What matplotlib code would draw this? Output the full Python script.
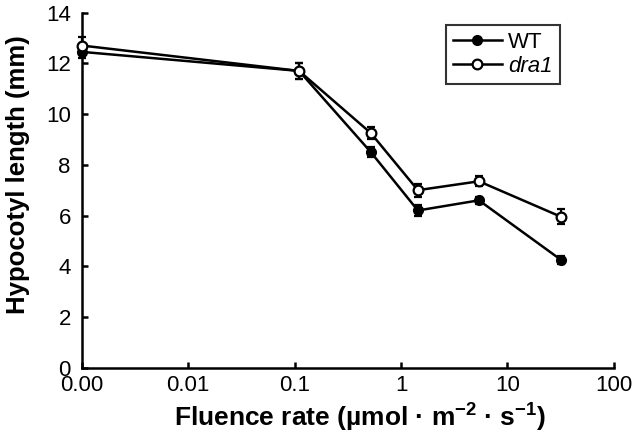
import numpy as np
import matplotlib
matplotlib.use('Agg')
import matplotlib.pyplot as plt

plt.rcParams['font.family'] = ['Liberation Sans', 'DejaVu Sans']
plt.rcParams['mathtext.fontset'] = 'custom'
plt.rcParams['mathtext.rm'] = 'Liberation Sans:bold'
plt.rcParams['mathtext.it'] = 'Liberation Sans:bold'
plt.rcParams['mathtext.bf'] = 'Liberation Sans:bold'

# fluence rates (umol m-2 s-1); 0 is drawn at the left end of the log axis
fluence = [0, 0.11, 0.52, 1.44, 5.4, 32]
wt_len = [12.45, 11.7, 8.5, 6.2, 6.6, 4.25]
wt_err = [0.25, 0.3, 0.2, 0.2, 0.15, 0.15]
dra1_len = [12.7, 11.7, 9.25, 7.0, 7.35, 5.95]
dra1_err = [0.35, 0.3, 0.25, 0.25, 0.2, 0.3]

xticks = [0.001, 0.01, 0.1, 1, 10, 100]
xticklabels = ['0.00', '0.01', '0.1', '1', '10', '100']

zero_pos = 0.001
x = [zero_pos if f == 0 else f for f in fluence]

fig = plt.figure(figsize=(6.4, 4.48), dpi=100)
ax = fig.add_axes([0.128, 0.179, 0.831, 0.793])

# error bars first, then lines with markers (these go in the legend)
ax.errorbar(x, wt_len, yerr=wt_err, fmt='none', ecolor='black', capsize=3,
            capthick=1.6, elinewidth=1.6, clip_on=False, zorder=2)
ax.errorbar(x, dra1_len, yerr=dra1_err, fmt='none', ecolor='black', capsize=3,
            capthick=1.6, elinewidth=1.6, clip_on=False, zorder=2)
ax.plot(x, wt_len, color='black', lw=1.8, marker='o', ms=7, mfc='black',
        mec='black', clip_on=False, label='WT', zorder=3)
ax.plot(x, dra1_len, color='black', lw=1.8, marker='o', ms=7, mfc='white',
        mec='black', mew=1.6, clip_on=False, label='dra1', zorder=4)

ax.set_xscale('log')
ax.set_xlim(0.001, 100)
ax.set_ylim(0, 14)
ax.set_xticks(xticks)
ax.set_xticklabels(xticklabels)
ax.minorticks_off()
ax.set_yticks(range(0, 15, 2))

for s in ['top', 'right']:
    ax.spines[s].set_visible(False)
for s in ['left', 'bottom']:
    ax.spines[s].set_linewidth(1.8)
ax.tick_params(direction='in', length=4, width=1.8, labelsize=16)
ax.tick_params(axis='x', pad=5)
ax.tick_params(axis='y', pad=8)

ax.set_xlabel('Fluence rate (µmol · m$^{-2}$ · s$^{-1}$)', fontsize=19,
              fontweight='bold', labelpad=3)
ax.xaxis.set_label_coords(0.522, -0.095)
ax.set_ylabel('Hypocotyl length (mm)', fontsize=18.5, fontweight='bold')
ax.yaxis.set_label_coords(-0.098, 0.545)

leg = ax.legend(loc='upper right', bbox_to_anchor=(0.898, 0.965), fontsize=16,
                frameon=True, fancybox=False, edgecolor='black', handlelength=2.2,
                borderpad=0.3, labelspacing=0.15, handletextpad=0.3,
                borderaxespad=0)
leg.get_frame().set_linewidth(1.5)
leg.get_texts()[1].set_fontstyle('italic')

fig.savefig('out.png', dpi=100)
